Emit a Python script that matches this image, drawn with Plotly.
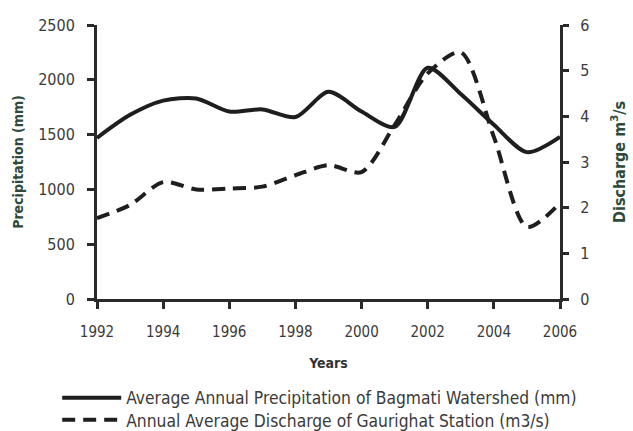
import plotly.graph_objects as go

years = [1992, 1993, 1994, 1995, 1996, 1997, 1998, 1999, 2000, 2001, 2002, 2003, 2004, 2005, 2006]
precip_mm = [1470, 1680, 1810, 1830, 1710, 1730, 1660, 1890, 1710, 1570, 2110, 1870, 1590, 1340, 1480]
discharge_m3s = [1.77, 2.06, 2.56, 2.40, 2.42, 2.46, 2.71, 2.93, 2.78, 3.81, 4.94, 5.40, 3.55, 1.58, 2.10]
xtick_years = [1992, 1994, 1996, 1998, 2000, 2002, 2004, 2006]
precip_ticks = [0, 500, 1000, 1500, 2000, 2500]
discharge_ticks = [0, 1, 2, 3, 4, 5, 6]

precip_name = "Average Annual Precipitation of Bagmati Watershed (mm)"
discharge_name = "Annual Average Discharge of Gaurighat Station (m3/s)"

FONT = "DejaVu Sans Condensed, Liberation Sans Narrow, Arial Narrow, sans-serif"
TXT = "#3a3a3a"
AX = "#2a2a2a"
TITLE = "#2d4a3c"

fig = go.Figure()
fig.add_trace(go.Scatter(x=years, y=precip_mm, name=precip_name, mode="lines", legend="legend",
                         line=dict(color="#1e1e1e", width=4, shape="spline", smoothing=0.8)))
fig.add_trace(go.Scatter(x=years, y=discharge_m3s, name=discharge_name, mode="lines", yaxis="y2",
                         legend="legend2",
                         line=dict(color="#1e1e1e", width=4, dash="13px,8px", shape="spline", smoothing=0.8)))

legend_common = dict(orientation="v", x=-0.086, xanchor="left", yanchor="middle",
                     font=dict(size=17.3, color=TXT), itemwidth=59,
                     bgcolor="rgba(0,0,0,0)")

fig.update_layout(
    width=633, height=431,
    margin=dict(l=97, r=73, t=25, b=132, autoexpand=False),
    paper_bgcolor="white", plot_bgcolor="white",
    font=dict(family=FONT, size=15, color=TXT),
    showlegend=True,
    legend=dict(legend_common, y=-0.361),
    legend2=dict(legend_common, y=-0.442),
    xaxis=dict(range=[1992, 2006], tickmode="array", tickvals=xtick_years, automargin=False,
               showgrid=False, zeroline=False, showline=True, linecolor=AX, linewidth=3,
               ticks="outside", ticklen=7, tickwidth=3, tickcolor=AX,
               ticklabelstandoff=10,
               tickfont=dict(size=15, color=TXT),
               title=dict(text="<b>Years</b>", font=dict(size=14, color="#333"), standoff=19)),
    yaxis=dict(range=[0, 2500], tickvals=precip_ticks, automargin=False,
               showgrid=False, zeroline=False, showline=True, linecolor=AX, linewidth=3,
               ticks="outside", ticklen=7, tickwidth=3, tickcolor=AX,
               ticklabelstandoff=9,
               tickfont=dict(size=16, color=TXT),
               title=dict(text="<b>Precipitation (mm)</b>", font=dict(size=14, color=TITLE), standoff=12)),
    yaxis2=dict(range=[0, 6], tickvals=discharge_ticks, overlaying="y", side="right", automargin=False,
                showgrid=False, zeroline=False, showline=True, linecolor=AX, linewidth=3,
                ticks="outside", ticklen=6, tickwidth=3, tickcolor=AX,
                ticklabelstandoff=8,
                tickfont=dict(size=16, color=TXT),
                title=dict(text="<b>Discharge m<sup>3</sup>/s</b>", font=dict(size=16, color=TITLE), standoff=26)),
)

fig.write_html("out.html", config={"displayModeBar": False},
               post_script="document.body.style.margin='0';")
